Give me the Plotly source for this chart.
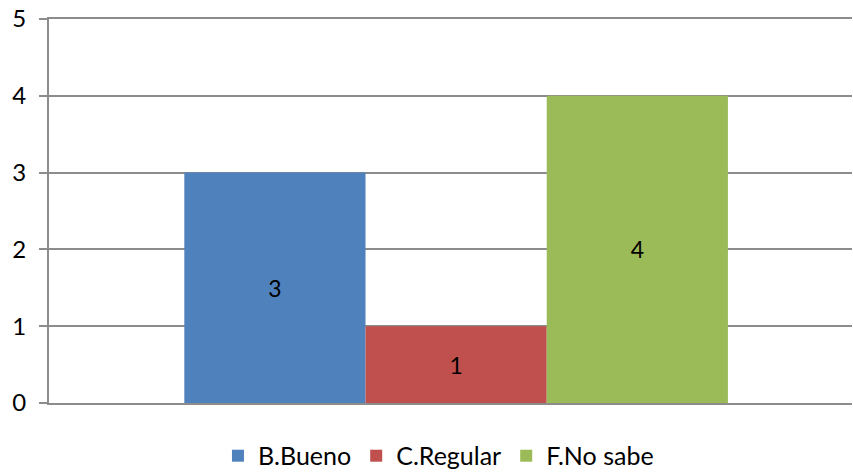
import plotly.graph_objects as go

categories = [""]
series_names = ["B.Bueno", "C.Regular", "F.No sabe"]
series_values = [[3], [1], [4]]
colors = ["#4f81bd", "#c0504d", "#9bbb59"]
y_ticks = [0, 1, 2, 3, 4, 5]

FONT = "Lato"

fig = go.Figure()
for name, vals, col in zip(series_names, series_values, colors):
    fig.add_trace(go.Bar(
        x=categories, y=vals, name=name, marker=dict(color=col, line=dict(width=0)),
        text=[str(v) for v in vals], textposition="inside", insidetextanchor="middle",
        textfont=dict(color="#000000", size=23, family=FONT),
    ))

fig.update_layout(
    width=853, height=473,
    margin=dict(l=49, r=1, t=19, b=70, autoexpand=False),
    paper_bgcolor="white", plot_bgcolor="white",
    barmode="group", bargap=0.323, bargroupgap=0,
    font=dict(family=FONT, size=24, color="#000000"),
    showlegend=True,
    legend=dict(orientation="h", x=0.485, xanchor="center", y=-0.078, yanchor="top",
                font=dict(size=25, family=FONT), itemwidth=30, tracegroupgap=0),
    xaxis=dict(showticklabels=False, showgrid=False, zeroline=False,
               showline=True, mirror=True, linecolor="#8c8c8c", linewidth=2,
               ticks="", automargin=False, range=[-0.507, 0.493]),
    yaxis=dict(range=[0, 5], tickvals=y_ticks, showgrid=True, gridcolor="#8c8c8c",
               gridwidth=2, zeroline=False, showline=True, linecolor="#8c8c8c",
               linewidth=2, ticks="outside", ticklen=8, tickcolor="#8c8c8c",
               tickwidth=2, ticklabelstandoff=8, automargin=False,
               ticklabeloverflow="allow"),
)
fig.write_html("out.html", config={"displayModeBar": False},
               post_script="document.body.style.margin='0';document.body.style.overflow='hidden';")
